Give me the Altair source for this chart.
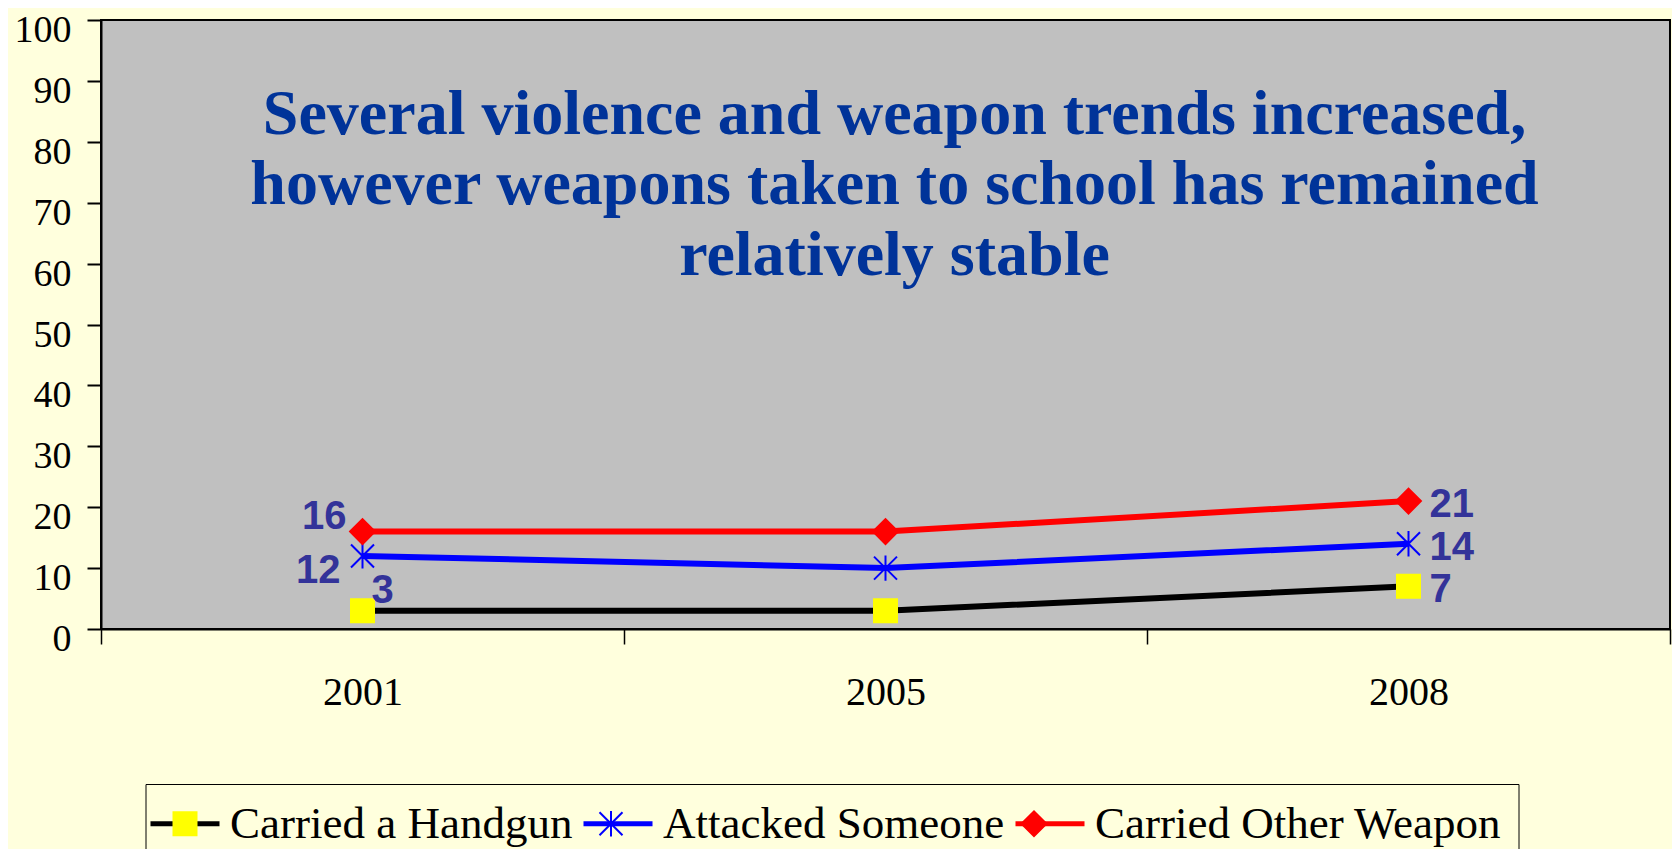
import altair as alt
import pandas as pd

# ---- data ----
years = ["2001", "2005", "2008"]
series = ["Carried a Handgun", "Attacked Someone", "Carried Other Weapon"]
handgun = [3, 3, 7]
attacked = [12, 10, 14]
other_weapon = [16, 16, 21]
y_ticks = [0, 10, 20, 30, 40, 50, 60, 70, 80, 90, 100]
title_lines = [
    "Several violence and weapon trends increased,",
    "however weapons taken to school has remained",
    "relatively stable",
]

# ---- styles ----
SERIF = "Liberation Serif"
LABEL_BLUE = "#333399"
line_colors = ["#000000", "#0000FF", "#FF0000"]
marker_fill = ["#FFFF00", "#0000FF", "#FF0000"]
marker_stroke = ["#FFFF00", "#0000FF", "#FF0000"]

# legend entry geometry
LEG_FONT = 45
est_label_w = [337, 334, 398]      # rendered label widths (px) at LEG_FONT
MU = 11.5                          # marker unit = sqrt(529)/2


def extent(w):
    # invisible move-to points: marker legend entries get the same width as
    # the line legend entries (stub + label), so both legends line up
    left = -37.5 / MU
    right = (42.5 + w) / MU
    return f"M{left:.3f},0M{right:.3f},0"


SQUARE = "M-1,-1L1,-1L1,1L-1,1Z"
ASTERISK = "M-1,-1L1,1M-1,1L1,-1M0,-1.1L0,1.1"
DIAMOND = "M-1.08,0L0,-1.08L1.08,0L0,1.08Z"
marker_shapes = [extent(w) + p for w, p in zip(est_label_w, [SQUARE, ASTERISK, DIAMOND])]
STUB = "M-1.917,0L1.917,0"

rows = []
for s, vals in zip(series, [handgun, attacked, other_weapon]):
    for yr, v in zip(years, vals):
        rows.append({"year": yr, "series": s, "series2": s, "value": v})
df = pd.DataFrame(rows)

x_enc = alt.X(
    "year:N", sort=years, title=None,
    scale=alt.Scale(type="band", paddingInner=0, paddingOuter=0),
    axis=alt.Axis(labelAngle=0, tickBand="extent", tickSize=15, tickWidth=1.5,
                  tickColor="black", domainColor="black", domainWidth=2,
                  labelFont=SERIF, labelFontSize=40, labelColor="black",
                  labelPadding=28, grid=False),
)
y_enc = alt.Y(
    "value:Q", title=None,
    scale=alt.Scale(domain=[0, 100], nice=False, zero=True),
    axis=alt.Axis(values=y_ticks, tickSize=14, tickWidth=2, tickColor="black",
                  domainColor="black", domainWidth=2, labelFont=SERIF,
                  labelFontSize=38, labelColor="black", labelPadding=16,
                  labelOffset=10.5, grid=False),
)

common_legend = dict(
    title=None, orient="none", legendX=44.5, legendY=764, direction="horizontal",
    labelFont=SERIF, labelFontSize=LEG_FONT, labelLimit=1000, labelOffset=22.5,
    columnPadding=0, padding=17,
)
legend_lines = alt.Legend(
    symbolType=STUB, symbolSize=1296, symbolStrokeWidth=5,
    labelColor="black", strokeColor="black", **common_legend,
)
legend_marks = alt.Legend(
    symbolSize=529, symbolStrokeWidth=2, labelExpr="''", **common_legend,
)

base = alt.Chart(df)

lines = base.mark_line(strokeWidth=6).encode(
    x=x_enc, y=y_enc,
    color=alt.Color("series:N", sort=series, scale=alt.Scale(range=line_colors),
                    legend=legend_lines),
)

points = base.mark_point(filled=True, opacity=1, size=529, strokeWidth=2).encode(
    x=x_enc, y=y_enc,
    shape=alt.Shape("series2:N", scale=alt.Scale(domain=series, range=marker_shapes),
                    legend=legend_marks),
    fill=alt.Fill("series2:N", scale=alt.Scale(domain=series, range=marker_fill),
                  legend=legend_marks),
    stroke=alt.Stroke("series2:N", scale=alt.Scale(domain=series, range=marker_stroke),
                      legend=legend_marks),
)


def value_labels(year, name, align, dx, dy):
    return base.transform_filter(
        (alt.datum.year == year) & (alt.datum.series == name)
    ).mark_text(
        align=align, baseline="alphabetic", dx=dx, dy=dy,
        font="Liberation Sans", fontSize=40, fontWeight="bold", color=LABEL_BLUE,
    ).encode(x=x_enc, y=y_enc, text="value:Q")


labels = [
    value_labels(years[0], series[0], "left", 9, -8),
    value_labels(years[0], series[1], "right", -22, 27),
    value_labels(years[0], series[2], "right", -16, -3),
    value_labels(years[2], series[0], "left", 21, 16),
    value_labels(years[2], series[1], "left", 21, 16),
    value_labels(years[2], series[2], "left", 21, 16),
]

chart = alt.layer(lines, points, *labels).properties(
    width=1569,
    height=609,
    autosize=alt.AutoSizeParams(type="none"),
    padding={"left": 93, "top": 12, "right": 2, "bottom": 230},
    title=alt.TitleParams(
        text=title_lines, font=SERIF, fontSize=64, fontWeight="bold",
        color="#003399", lineHeight=70.5, anchor="middle", orient="top",
        baseline="top", offset=-276, dx=9,
    ),
).configure(
    background="#FFFFDD",
).configure_view(
    fill="#C0C0C0", stroke="black", strokeWidth=2,
)

chart.save("out.html", embed_options={"renderer": "svg", "actions": False})
